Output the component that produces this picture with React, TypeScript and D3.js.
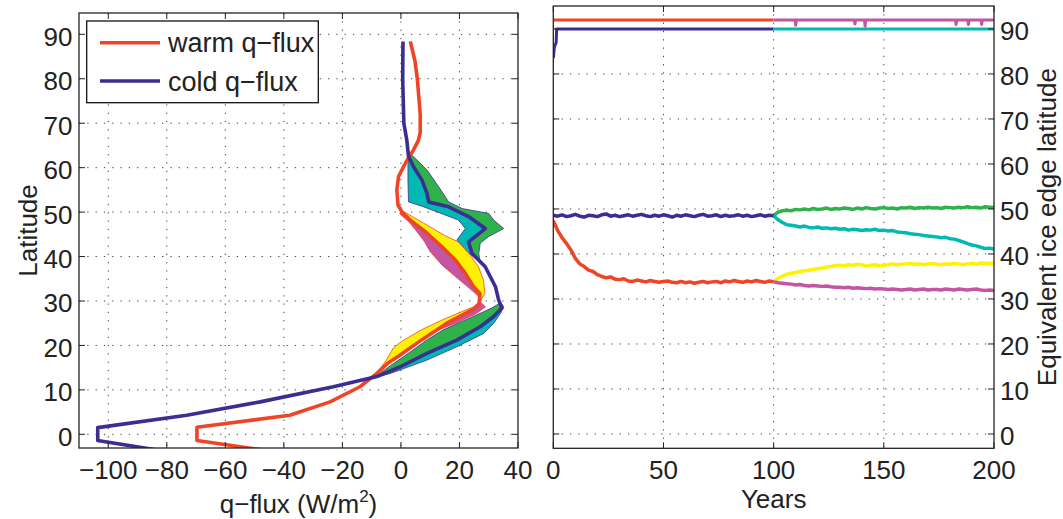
import React from 'react';
import * as d3 from 'd3';

const W = 1063;
const H = 519;
const FONT = '"Liberation Sans", Arial, Helvetica, sans-serif';

const RED = '#ef4526';
const BLUE = '#3a2e93';
const GREEN = '#2fb14c';
const CYAN = '#00b9b3';
const YELLOW = '#fff200';
const MAGENTA = '#c455a2';

// ---------- Left panel: q-flux profiles (latitude, W/m^2) ----------
const warmLat = [-4.2, -1.4, 1.6, 4.3, 7.3, 10.7, 13.7, 16.0, 17.5, 21.3, 25.0, 28.2, 29.5, 31.7, 33.2, 36.2, 39.2, 42.2, 45.6, 48.2, 50.1, 51.6, 55.0, 58.0, 61.0, 64.0, 66.2, 68.0, 72.0, 80.0, 84.0, 88.4];
const warmFlux = [-40, -69.7, -69.7, -38, -24.2, -14, -8.2, -4.5, -1, 7.2, 15.7, 24.8, 26.8, 27, 24.8, 22, 18.6, 14, 8.3, 3.2, 0.3, -1, -1.4, -0.8, 1.5, 4.3, 6.0, 6.6, 6.6, 5.6, 4.8, 3.2];

const coldLat = [-4.2, -1.4, 1.5, 4.3, 7.3, 10.7, 13.0, 15.2, 18.2, 21.2, 24.2, 26.5, 28.4, 30.2, 33.2, 37.7, 40.7, 43.3, 46.3, 49.0, 51.2, 52.3, 54.2, 57.2, 60.2, 62.5, 66.2, 70, 80, 88.4];
const coldFlux = [-77, -103.6, -103.6, -73.2, -48.1, -23.1, -8.2, -0.2, 8.9, 19.1, 27.1, 31.7, 34.5, 33.4, 32.3, 28.8, 24.3, 23.1, 28.8, 23.1, 16.3, 9.5, 8.9, 7.2, 4.3, 2.6, 2.0, 1.0, 0.6, 0.7];

// shaded envelopes (outer boundary of each band)
const yellowUpperLat = [29.8, 31.7, 34.7, 37.7, 40.7, 43.3, 44.8, 47.5, 50.3];
const yellowUpperFlux = [27.0, 28.7, 28.2, 26.5, 23.2, 19.6, 14.8, 7.8, 0.5];
const yellowLowerLat = [14.0, 15.6, 16.7, 19.4, 20.9, 23.5, 25.7, 28.0, 28.7];
const yellowLowerFlux = [-8.0, -6.2, -5.0, -2.6, 0.2, 7.0, 14.0, 22.2, 25.0];
const magentaUpperLat = [31.0, 32.8, 35.5, 38.1, 41.1, 43.4, 46.0, 47.9, 49.6, 50.3];
const magentaUpperFlux = [26.6, 23.5, 18.6, 14.0, 10.0, 8.0, 5.0, 2.6, -0.4, 0.1];
const magentaLowerLat = [22.0, 23.5, 25.0, 27.2, 28.7, 29.8];
const magentaLowerFlux = [8.7, 13.0, 18.8, 25.8, 28.9, 27.0];

const cyanUpperLat = [38.0, 39.6, 41.5, 43.7, 46.3, 48.2, 51.2, 52.3, 57.0, 61.0, 62.8];
const cyanUpperFlux = [28.0, 25.4, 22.0, 19.1, 22.0, 19.7, 7.7, 2.6, 2.4, 2.4, 2.6];
const greenUpperLat = [39.0, 40.7, 43.0, 44.5, 46.3, 48.2, 49.7, 50.8, 52.3, 55.7, 59.5, 61.7, 63.5];
const greenUpperFlux = [27.0, 26.6, 27.1, 30.0, 35.1, 31.7, 30.0, 20.9, 16.3, 12.9, 8.9, 5.5, 2.6];
const cyanLowerLat = [12.8, 13.7, 16.7, 19.7, 22.7, 25.0, 27.2, 28.7, 30.2];
const cyanLowerFlux = [-9.0, -3.6, 8.9, 19.1, 28.3, 31.7, 34.0, 35.1, 33.5];
const greenLowerLat = [13.3, 15.5, 17.5, 21.3, 23.5, 25.0, 27.2, 28.4, 29.5];
const greenLowerFlux = [-8.0, -3.5, 1.0, 9.0, 14.5, 19.5, 27.0, 31.0, 33.8];

const fluxTicks = [-100, -80, -60, -40, -20, 0, 20, 40];
const latTicks = [0, 10, 20, 30, 40, 50, 60, 70, 80, 90];
const legendLabels = ['warm q\u2212flux', 'cold q\u2212flux'];

// ---------- Right panel: ice edge latitude vs years ----------
const yearsA = [0, 2, 4, 6, 8, 10, 12, 14, 16, 18, 20, 22, 24, 26, 28, 30, 32, 34, 36, 38, 40, 42, 44, 46, 48, 50, 52, 54, 56, 58, 60, 62, 64, 66, 68, 70, 72, 74, 76, 78, 80, 82, 84, 86, 88, 90, 92, 94, 96, 98, 100];
const yearsB = [100, 102, 104, 106, 108, 110, 112, 114, 116, 118, 120, 122, 124, 126, 128, 130, 132, 134, 136, 138, 140, 142, 144, 146, 148, 150, 152, 154, 156, 158, 160, 162, 164, 166, 168, 170, 172, 174, 176, 178, 180, 182, 184, 186, 188, 190, 192, 194, 196, 198, 200];

const redIce = [47.4, 45.2, 43.6, 42.3, 40.9, 39.0, 37.8, 37.2, 36.4, 36.1, 35.4, 35.0, 34.7, 34.9, 34.4, 34.3, 34.5, 34.0, 33.9, 34.2, 34.0, 33.8, 34.1, 33.9, 33.7, 33.9, 34.0, 33.7, 33.6, 33.9, 33.6, 33.8, 33.5, 33.7, 33.9, 33.6, 33.8, 33.9, 33.6, 34.0, 33.8, 34.1, 33.9, 33.7, 34.0, 33.8, 34.1, 33.9, 33.7, 34.0, 33.8];
const blueIce = [48.6, 48.4, 48.7, 48.3, 48.5, 48.8, 48.4, 48.2, 48.6, 48.5, 48.3, 48.7, 48.9, 48.4, 48.6, 48.3, 48.5, 48.7, 48.4, 48.6, 48.8, 48.5, 48.3, 48.6, 48.4, 48.7, 48.5, 48.2, 48.6, 48.4, 48.7, 48.5, 48.3, 48.6, 48.8, 48.4, 48.5, 48.7, 48.3, 48.6, 48.4, 48.5, 48.7, 48.4, 48.6, 48.3, 48.5, 48.7, 48.4, 48.6, 48.5];
const greenIce = [48.5, 49.3, 49.6, 49.7, 49.6, 49.9, 49.8, 50.0, 49.8, 50.1, 49.9, 50.0, 50.2, 49.9, 50.1, 50.0, 50.2, 50.1, 49.9, 50.2, 50.0, 50.3, 50.1, 50.0, 50.2, 50.3, 50.1, 50.2, 50.0, 50.3, 50.2, 50.4, 50.1, 50.3, 50.2, 50.4, 50.2, 50.3, 50.1, 50.4, 50.3, 50.2, 50.4, 50.3, 50.5, 50.3, 50.4, 50.2, 50.5, 50.4, 50.3];
const cyanIce = [48.5, 47.6, 47.0, 46.5, 46.4, 46.2, 46.0, 46.2, 45.9, 45.8, 46.0, 45.7, 45.8, 45.6, 45.7, 45.5, 45.6, 45.3, 45.5, 45.4, 45.2, 45.4, 45.3, 45.5, 45.2, 45.3, 45.1, 45.2, 44.9, 44.8, 44.7, 44.5, 44.4, 44.3, 44.1, 44.0, 43.9, 43.8, 43.6, 43.7, 43.4, 43.3, 43.0, 42.7, 42.3, 42.0, 41.8, 41.5, 41.2, 41.3, 41.1];
const yellowIce = [33.8, 34.6, 35.1, 35.5, 35.7, 35.9, 36.1, 36.3, 36.4, 36.6, 36.7, 36.9, 37.1, 37.2, 37.4, 37.5, 37.4, 37.6, 37.5, 37.7, 37.6, 37.3, 37.5, 37.6, 37.4, 37.5, 37.6, 37.8, 37.6, 37.7, 37.8, 37.9, 37.7, 37.8, 37.6, 37.8, 37.9, 37.7, 37.6, 37.8, 37.7, 37.9, 37.8, 37.6, 37.8, 37.9, 37.7, 38.0, 37.9, 38.0, 37.8];
const magentaIce = [33.8, 33.6, 33.5, 33.4, 33.3, 33.1, 33.2, 33.0, 32.9, 33.0, 32.9, 32.8, 32.9, 32.7, 32.6, 32.6, 32.5, 32.6, 32.4, 32.5, 32.4, 32.3, 32.4, 32.2, 32.3, 32.2, 32.1, 32.2, 32.1, 32.0, 32.1, 32.2, 32.0, 32.1, 32.2, 32.0, 32.1, 32.1, 32.0, 32.2, 32.1, 32.0, 32.2, 32.1, 32.0, 32.1, 32.2, 32.0, 31.9, 32.0, 31.9];

// "no ice" traces drawn near the top
const redTopYears = [0, 100];
const redTopLat = [92, 92];
const blueTopYears = [0, 0.5, 1.3, 1.5, 100];
const blueTopLat = [83.5, 86, 87, 90, 90];
const cyanTopYears = [100, 200];
const cyanTopLat = [90, 90];
const magentaTopYears = [100, 109.7, 110.0, 110.3, 136.6, 136.9, 137.2, 141.2, 141.5, 141.8, 182.5, 182.8, 183.1, 188.1, 188.4, 188.7, 194.1, 194.4, 194.7, 200];
const magentaTopLat = [92, 92, 90.8, 92, 92, 91.1, 92, 92, 90.6, 92, 92, 91.0, 92, 92, 91.0, 92, 92, 91.0, 92, 92];

const yearTicks = [0, 50, 100, 150, 200];

type P = [number, number];
const zip = (a: number[], b: number[]): P[] => a.map((v, i) => [v, b[i]] as P);

export default function App() {
  const xL = d3.scaleLinear().domain([-110, 40]).range([79, 518]);
  const yL = d3.scaleLinear().domain([-3.08, 94.8]).range([448, 13]);
  const xR = d3.scaleLinear().domain([0, 200]).range([553.3, 994]);
  const yR = d3.scaleLinear().domain([-3.18, 95.1]).range([448.3, 6]);

  const lineL = d3.line<P>().x((d) => xL(d[1])).y((d) => yL(d[0]));
  const lineR = d3.line<P>().x((d) => xR(d[0])).y((d) => yR(d[1]));

  const band = (bLat: number[], bVal: number[], mLat: number[], mVal: number[]) => {
    const lo = d3.min(bLat) as number;
    const hi = d3.max(bLat) as number;
    const b = zip(bLat, bVal).sort((p, q) => p[0] - q[0]);
    const m = zip(mLat, mVal)
      .filter((p) => p[0] > lo && p[0] < hi)
      .sort((p, q) => q[0] - p[0]);
    return (lineL([...b, ...m]) || '') + 'Z';
  };

  const gridStyle = { stroke: '#444', strokeWidth: 1, strokeDasharray: '1.3 7', fill: 'none' } as const;
  const tickLen = 6;
  const fs = 26;

  const Lx0 = xL.range()[0], Lx1 = xL.range()[1], Ly0 = yL.range()[1], Ly1 = yL.range()[0];
  const Rx0 = xR.range()[0], Rx1 = xR.range()[1], Ry0 = yR.range()[1], Ry1 = yR.range()[0];

  return (
    <svg width={W} height={H} style={{ position: 'absolute', left: 0, top: 0, background: '#fff' }} fontFamily={FONT}>
      <defs>
        <clipPath id="clipL">
          <rect x={Lx0} y={Ly0} width={Lx1 - Lx0} height={Ly1 - Ly0} />
        </clipPath>
        <clipPath id="clipR">
          <rect x={Rx0} y={Ry0} width={Rx1 - Rx0} height={Ry1 - Ry0} />
        </clipPath>
      </defs>
      <rect x={0} y={0} width={W} height={H} fill="#fff" />

      {/* ===== Left panel ===== */}
      <g>
        {fluxTicks.filter((t) => t !== 40).map((t) => (
          <line key={'gx' + t} x1={xL(t)} x2={xL(t)} y1={Ly0} y2={Ly1} style={gridStyle} />
        ))}
        {latTicks.map((t) => (
          <line key={'gy' + t} x1={Lx0} x2={Lx1} y1={yL(t)} y2={yL(t)} style={gridStyle} />
        ))}
        <g clipPath="url(#clipL)">
          <path d={band(greenUpperLat, greenUpperFlux, coldLat, coldFlux)} fill={GREEN} stroke={BLUE} strokeWidth={0.8} />
          <path d={band(cyanUpperLat, cyanUpperFlux, coldLat, coldFlux)} fill={CYAN} stroke={BLUE} strokeWidth={0.8} />
          <path d={band(greenLowerLat, greenLowerFlux, coldLat, coldFlux)} fill={GREEN} stroke={BLUE} strokeWidth={0.8} />
          <path d={band(cyanLowerLat, cyanLowerFlux, coldLat, coldFlux)} fill={CYAN} stroke={BLUE} strokeWidth={0.8} />
          <path d={band(yellowUpperLat, yellowUpperFlux, warmLat, warmFlux)} fill={YELLOW} stroke={RED} strokeWidth={0.8} />
          <path d={band(magentaUpperLat, magentaUpperFlux, warmLat, warmFlux)} fill={MAGENTA} stroke={RED} strokeWidth={0.8} />
          <path d={band(yellowLowerLat, yellowLowerFlux, warmLat, warmFlux)} fill={YELLOW} stroke={RED} strokeWidth={0.8} />
          <path d={band(magentaLowerLat, magentaLowerFlux, warmLat, warmFlux)} fill={MAGENTA} stroke={RED} strokeWidth={0.8} />
          <path d={lineL(zip(warmLat, warmFlux)) || ''} fill="none" stroke={RED} strokeWidth={3.6} strokeLinejoin="round" />
          <path d={lineL(zip(coldLat, coldFlux)) || ''} fill="none" stroke={BLUE} strokeWidth={3.6} strokeLinejoin="round" />
        </g>
        {/* ticks */}
        {fluxTicks.map((t) => (
          <g key={'tx' + t}>
            <line x1={xL(t)} x2={xL(t)} y1={Ly1} y2={Ly1 - tickLen} stroke="#222" />
            <line x1={xL(t)} x2={xL(t)} y1={Ly0} y2={Ly0 + tickLen} stroke="#222" />
            <text x={xL(t)} y={478.5} textAnchor="middle" fontSize={fs} fill="#222">
              {t < 0 ? '\u2212' + Math.abs(t) : String(t)}
            </text>
          </g>
        ))}
        {latTicks.map((t) => (
          <g key={'ty' + t}>
            <line x1={Lx0} x2={Lx0 + tickLen} y1={yL(t)} y2={yL(t)} stroke="#222" />
            <line x1={Lx1} x2={Lx1 - tickLen} y1={yL(t)} y2={yL(t)} stroke="#222" />
            <text x={72.5} y={yL(t) + 11.5} textAnchor="end" fontSize={fs} fill="#222">{t}</text>
          </g>
        ))}
        <rect x={Lx0} y={Ly0} width={Lx1 - Lx0} height={Ly1 - Ly0} fill="none" stroke="#222" strokeWidth={1.3} />
        {/* legend */}
        <rect x={86.7} y={21} width={231.6} height={81.7} fill="#fff" stroke="#111" strokeWidth={1.3} />
        <line x1={100} x2={160} y1={42.7} y2={42.7} stroke={RED} strokeWidth={3.6} />
        <line x1={100} x2={160} y1={81} y2={81} stroke={BLUE} strokeWidth={3.6} />
        <text x={168} y={52} fontSize={27} fill="#222">{legendLabels[0]}</text>
        <text x={168} y={90.5} fontSize={27} fill="#222">{legendLabels[1]}</text>
        {/* axis labels */}
        <text x={(Lx0 + Lx1) / 2} y={513} textAnchor="middle" fontSize={fs} fill="#222">
          q{'\u2212'}flux (W/m<tspan dy={-11} fontSize={17}>2</tspan><tspan dy={11}>)</tspan>
        </text>
        <text transform={`translate(37,${(Ly0 + Ly1) / 2}) rotate(-90)`} textAnchor="middle" fontSize={fs} fill="#222">Latitude</text>
      </g>

      {/* ===== Right panel ===== */}
      <g>
        {yearTicks.filter((t) => t !== 0 && t !== 200).map((t) => (
          <line key={'rgx' + t} x1={xR(t)} x2={xR(t)} y1={Ry0} y2={Ry1} style={gridStyle} />
        ))}
        {latTicks.map((t) => (
          <line key={'rgy' + t} x1={Rx0} x2={Rx1} y1={yR(t)} y2={yR(t)} style={gridStyle} />
        ))}
        <g clipPath="url(#clipR)" fill="none" strokeLinejoin="round">
          <path d={lineR(zip(redTopYears, redTopLat)) || ''} stroke={RED} strokeWidth={3} />
          <path d={lineR(zip(magentaTopYears, magentaTopLat)) || ''} stroke={MAGENTA} strokeWidth={3} />
          <path d={lineR(zip(blueTopYears, blueTopLat)) || ''} stroke={BLUE} strokeWidth={3} />
          <path d={lineR(zip(cyanTopYears, cyanTopLat)) || ''} stroke={CYAN} strokeWidth={3} />
          <path d={lineR(zip(yearsB, greenIce)) || ''} stroke={GREEN} strokeWidth={3.5} />
          <path d={lineR(zip(yearsB, cyanIce)) || ''} stroke={CYAN} strokeWidth={3.5} />
          <path d={lineR(zip(yearsB, yellowIce)) || ''} stroke={YELLOW} strokeWidth={3.5} />
          <path d={lineR(zip(yearsB, magentaIce)) || ''} stroke={MAGENTA} strokeWidth={3.5} />
          <path d={lineR(zip(yearsA, blueIce)) || ''} stroke={BLUE} strokeWidth={3.5} />
          <path d={lineR(zip(yearsA, redIce)) || ''} stroke={RED} strokeWidth={3.5} />
        </g>
        {yearTicks.map((t) => (
          <g key={'rtx' + t}>
            <line x1={xR(t)} x2={xR(t)} y1={Ry1} y2={Ry1 - tickLen} stroke="#222" />
            <line x1={xR(t)} x2={xR(t)} y1={Ry0} y2={Ry0 + tickLen} stroke="#222" />
            <text x={xR(t)} y={479} textAnchor="middle" fontSize={fs} fill="#222">{t}</text>
          </g>
        ))}
        {latTicks.map((t) => (
          <g key={'rty' + t}>
            <line x1={Rx0} x2={Rx0 + tickLen} y1={yR(t)} y2={yR(t)} stroke="#222" />
            <line x1={Rx1} x2={Rx1 - tickLen} y1={yR(t)} y2={yR(t)} stroke="#222" />
            <text x={1000} y={yR(t) + 11.5} textAnchor="start" fontSize={fs} fill="#222">{t}</text>
          </g>
        ))}
        <rect x={Rx0} y={Ry0} width={Rx1 - Rx0} height={Ry1 - Ry0} fill="none" stroke="#222" strokeWidth={1.3} />
        <text x={(Rx0 + Rx1) / 2} y={508} textAnchor="middle" fontSize={fs} fill="#222">Years</text>
        <text transform={`translate(1056,${(Ry0 + Ry1) / 2}) rotate(-90)`} textAnchor="middle" fontSize={fs} fill="#222">
          Equivalent ice edge latitude
        </text>
      </g>
    </svg>
  );
}
